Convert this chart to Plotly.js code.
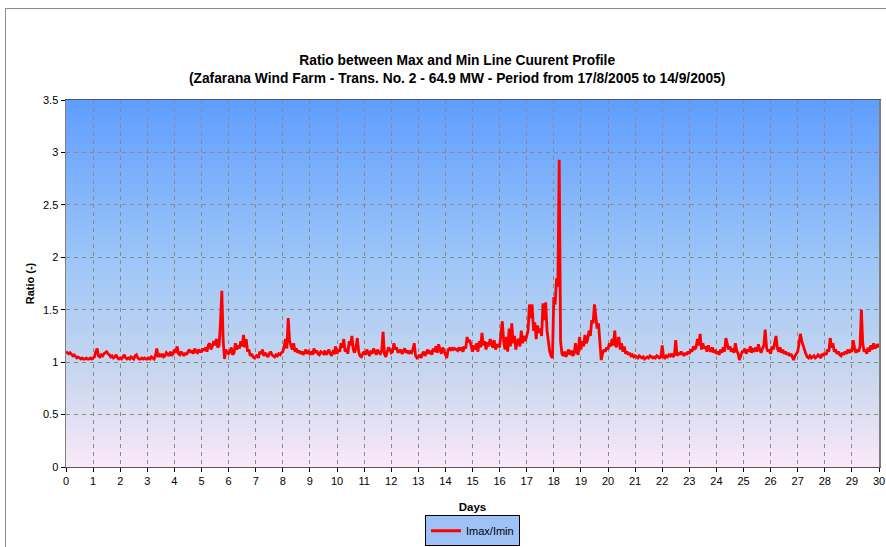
<!DOCTYPE html>
<html>
<head>
<meta charset="utf-8">
<script src="https://cdn.plot.ly/plotly-3.0.1.min.js"></script>
<style>
html,body{margin:0;padding:0;background:#fff;overflow:hidden;width:886px;height:547px;}
#frame{position:absolute;left:5px;top:8px;width:920px;height:600px;border:1px solid #8c8c8c;box-sizing:border-box;pointer-events:none;z-index:5;}
#chart{position:absolute;left:0;top:0;width:886px;height:547px;}
</style>
</head>
<body>
<div id="chart"></div>
<div id="frame"></div>
<script>
// Ratio Imax/Imin, 20 readings per day (every 0.05 day)
const day00 = [1.10,1.09,1.08,1.09,1.07,1.06,1.07,1.05,1.04,1.05,1.04,1.03,1.04,1.03,1.03,1.04,1.03,1.03,1.04,1.03];
const day01 = [1.04,1.05,1.10,1.13,1.06,1.05,1.07,1.06,1.08,1.09,1.10,1.08,1.07,1.05,1.06,1.04,1.05,1.07,1.04,1.03];
const day02 = [1.04,1.03,1.05,1.07,1.04,1.03,1.04,1.03,1.05,1.04,1.03,1.06,1.07,1.04,1.03,1.03,1.04,1.03,1.04,1.03];
const day03 = [1.03,1.04,1.03,1.05,1.04,1.03,1.06,1.13,1.05,1.07,1.06,1.08,1.05,1.06,1.09,1.07,1.06,1.10,1.06,1.08];
const day04 = [1.12,1.09,1.15,1.08,1.07,1.10,1.08,1.06,1.09,1.07,1.10,1.12,1.09,1.11,1.08,1.13,1.10,1.09,1.12,1.10];
const day05 = [1.10,1.13,1.11,1.14,1.10,1.16,1.18,1.12,1.15,1.20,1.16,1.22,1.14,1.16,1.38,1.68,1.20,1.03,1.12,1.09];
const day06 = [1.08,1.10,1.14,1.07,1.09,1.18,1.12,1.16,1.13,1.20,1.15,1.26,1.14,1.22,1.10,1.12,1.06,1.08,1.05,1.04];
const day07 = [1.05,1.07,1.04,1.10,1.08,1.12,1.06,1.09,1.07,1.05,1.08,1.10,1.07,1.06,1.05,1.07,1.06,1.08,1.07,1.09];
const day08 = [1.10,1.15,1.22,1.13,1.42,1.20,1.16,1.12,1.18,1.10,1.13,1.09,1.11,1.08,1.10,1.07,1.09,1.12,1.08,1.10];
const day09 = [1.08,1.10,1.07,1.13,1.09,1.11,1.08,1.07,1.10,1.09,1.08,1.11,1.07,1.09,1.12,1.08,1.06,1.10,1.09,1.15];
const day10 = [1.08,1.12,1.10,1.18,1.14,1.22,1.10,1.13,1.08,1.20,1.16,1.25,1.12,1.09,1.14,1.23,1.10,1.06,1.05,1.08];
const day11 = [1.10,1.07,1.12,1.09,1.06,1.11,1.08,1.13,1.10,1.07,1.12,1.09,1.08,1.11,1.29,1.08,1.05,1.10,1.14,1.12];
const day12 = [1.09,1.10,1.18,1.12,1.14,1.09,1.11,1.12,1.08,1.10,1.13,1.09,1.11,1.08,1.10,1.09,1.12,1.18,1.06,1.04];
const day13 = [1.05,1.07,1.04,1.08,1.10,1.06,1.09,1.12,1.08,1.11,1.07,1.13,1.10,1.15,1.09,1.17,1.12,1.08,1.14,1.10];
const day14 = [1.06,1.04,1.12,1.13,1.11,1.14,1.12,1.13,1.12,1.11,1.14,1.12,1.13,1.10,1.15,1.13,1.24,1.19,1.21,1.15];
const day15 = [1.10,1.16,1.12,1.18,1.10,1.20,1.14,1.28,1.16,1.20,1.12,1.19,1.15,1.22,1.17,1.14,1.21,1.12,1.17,1.15];
const day16 = [1.15,1.28,1.39,1.20,1.12,1.24,1.10,1.32,1.15,1.37,1.18,1.25,1.12,1.20,1.22,1.15,1.30,1.18,1.25,1.20];
const day17 = [1.25,1.30,1.55,1.42,1.55,1.30,1.38,1.22,1.35,1.28,1.32,1.25,1.56,1.40,1.57,1.30,1.20,1.10,1.06,1.04];
const day18 = [1.62,1.55,1.80,1.72,2.93,1.20,1.08,1.06,1.10,1.05,1.09,1.12,1.07,1.11,1.06,1.08,1.18,1.10,1.07,1.24];
const day19 = [1.12,1.20,1.15,1.26,1.18,1.22,1.30,1.25,1.40,1.37,1.55,1.45,1.32,1.37,1.22,1.02,1.08,1.12,1.10,1.14];
const day20 = [1.12,1.18,1.15,1.22,1.16,1.30,1.14,1.20,1.24,1.12,1.18,1.10,1.15,1.08,1.10,1.07,1.09,1.06,1.07,1.05];
const day21 = [1.06,1.05,1.04,1.06,1.05,1.04,1.05,1.03,1.04,1.05,1.04,1.06,1.05,1.04,1.05,1.04,1.06,1.05,1.04,1.05];
const day22 = [1.16,1.05,1.04,1.06,1.05,1.07,1.06,1.08,1.05,1.07,1.21,1.06,1.09,1.07,1.10,1.08,1.06,1.09,1.07,1.10];
const day23 = [1.08,1.12,1.10,1.15,1.12,1.14,1.22,1.16,1.27,1.12,1.18,1.13,1.15,1.10,1.16,1.12,1.10,1.14,1.09,1.12];
const day24 = [1.08,1.10,1.07,1.12,1.09,1.14,1.10,1.23,1.16,1.12,1.15,1.10,1.13,1.09,1.18,1.11,1.08,1.02,1.06,1.10];
const day25 = [1.10,1.13,1.08,1.12,1.10,1.15,1.09,1.12,1.11,1.14,1.10,1.17,1.12,1.09,1.13,1.16,1.31,1.14,1.10,1.12];
const day26 = [1.08,1.15,1.12,1.20,1.25,1.13,1.10,1.14,1.09,1.12,1.08,1.10,1.07,1.09,1.06,1.08,1.05,1.02,1.06,1.08];
const day27 = [1.10,1.18,1.27,1.20,1.15,1.12,1.08,1.05,1.04,1.06,1.04,1.05,1.06,1.04,1.05,1.07,1.05,1.04,1.08,1.06];
const day28 = [1.09,1.07,1.12,1.10,1.23,1.14,1.18,1.10,1.12,1.08,1.10,1.07,1.06,1.09,1.07,1.10,1.08,1.12,1.09,1.11];
const day29 = [1.10,1.21,1.13,1.09,1.12,1.10,1.15,1.50,1.18,1.10,1.12,1.08,1.14,1.10,1.16,1.12,1.18,1.13,1.15,1.17];
const lastValue = [1.14];

const seriesName = "Imax/Imin";
const xTickValues = [0,1,2,3,4,5,6,7,8,9,10,11,12,13,14,15,16,17,18,19,20,21,22,23,24,25,26,27,28,29,30];
const yTickValues = [0,0.5,1,1.5,2,2.5,3,3.5];
const yTickLabels = ["0","0.5","1","1.5","2","2.5","3","3.5"];

const ratio = [].concat(day00,day01,day02,day03,day04,day05,day06,day07,day08,day09,
  day10,day11,day12,day13,day14,day15,day16,day17,day18,day19,
  day20,day21,day22,day23,day24,day25,day26,day27,day28,day29,lastValue);
const days = ratio.map((v,i)=>i/20);

const gradSvg = '<svg xmlns="http://www.w3.org/2000/svg" width="10" height="100" preserveAspectRatio="none">' +
  '<defs><linearGradient id="g" x1="0" y1="0" x2="0" y2="1">' +
  '<stop offset="0" stop-color="#5f9dff"/><stop offset="0.45" stop-color="#9fc7f7"/>' +
  '<stop offset="0.75" stop-color="#c9d7ef"/><stop offset="1" stop-color="#fbe9f9"/>' +
  '</linearGradient></defs><rect width="10" height="100" fill="url(#g)"/></svg>';
const gradSrc = 'data:image/svg+xml;charset=utf-8,' + encodeURIComponent(gradSvg);

const font = "Arial, 'Liberation Sans', sans-serif";

Plotly.newPlot('chart', [{
  x: days, y: ratio, type: 'scatter', mode: 'lines', name: seriesName,
  line: {color: '#ff0000', width: 2.8}
}], {
  width: 886, height: 547,
  margin: {l: 66, r: 7, t: 100, b: 80},
  paper_bgcolor: '#ffffff',
  plot_bgcolor: 'rgba(0,0,0,0)',
  font: {family: font, color: '#000', size: 11},
  title: {
    text: '<b>Ratio between Max and Min Line Cuurent Profile<br>(Zafarana Wind Farm - Trans. No. 2 - 64.9 MW - Period from 17/8/2005 to 14/9/2005)</b>',
    font: {family: font, size: 13.8, color: '#000'},
    x: 0.516, xref: 'container', xanchor: 'center',
    y: 0.881, yref: 'container', yanchor: 'middle'
  },
  images: [{
    source: gradSrc, xref: 'paper', yref: 'paper', x: 0, y: 1, sizex: 1, sizey: 1,
    xanchor: 'left', yanchor: 'top', sizing: 'stretch', layer: 'below'
  }],
  xaxis: {
    range: [0, 30], tickvals: xTickValues, ticktext: xTickValues.map(String),
    ticks: 'outside', ticklen: 4, tickcolor: '#000', tickwidth: 1,
    showline: true, linecolor: '#555', linewidth: 1, mirror: true,
    showgrid: true, gridcolor: '#8a8a8a', griddash: '4px,4px', gridwidth: 1,
    zeroline: false, tickfont: {size: 11},
    title: {text: '<b>Days</b>', font: {size: 11.5}, standoff: 16}
  },
  yaxis: {
    range: [0, 3.5], tickvals: yTickValues, ticktext: yTickLabels,
    ticks: 'outside', ticklen: 4, tickcolor: '#000', tickwidth: 1,
    showline: true, linecolor: '#808080', linewidth: 1.5, mirror: true,
    showgrid: true, gridcolor: '#8a8a8a', griddash: '4px,4px', gridwidth: 1,
    zeroline: false, tickfont: {size: 11},
    title: {text: '<b>Ratio (-)</b>', font: {size: 11}, standoff: 6}
  },
  showlegend: true,
  legend: {
    orientation: 'h', x: 0.5, xanchor: 'center', y: 0.058, yref: 'container', yanchor: 'top',
    bgcolor: '#9fc2f6', bordercolor: '#000', borderwidth: 1,
    font: {size: 11}
  }
}, {staticPlot: true, displayModeBar: false});
</script>
</body>
</html>
